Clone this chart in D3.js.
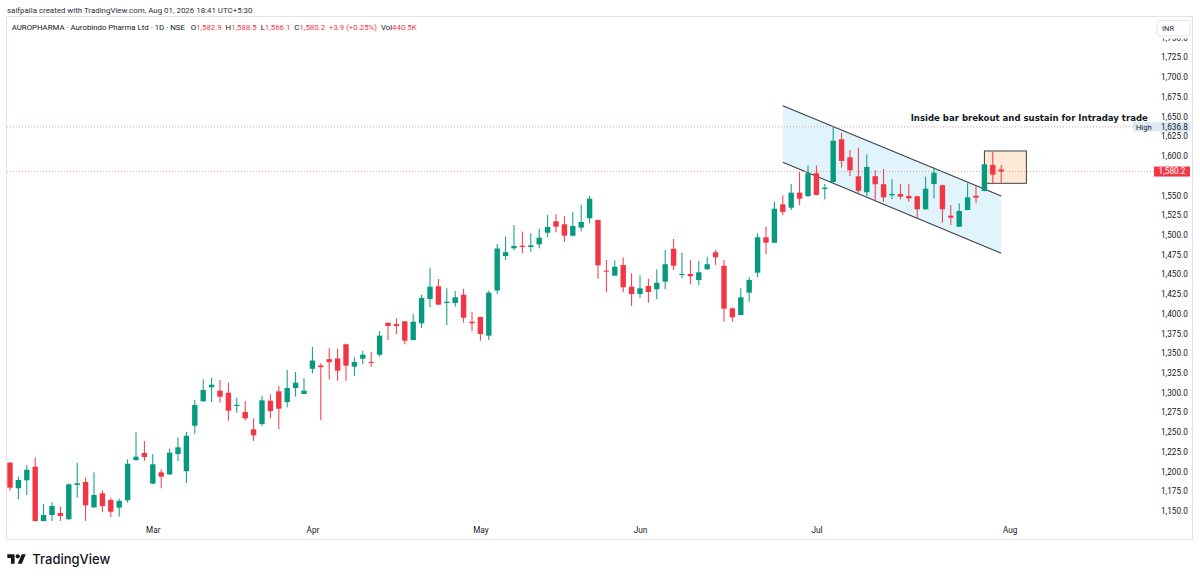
<!DOCTYPE html>
<html>
<head>
<meta charset="utf-8">
<script src="https://cdn.jsdelivr.net/npm/d3@7"></script>
<style>
  body { margin: 0; background: #fff; }
  svg { display: block; font-family: Roboto, "Noto Sans", sans-serif; }
</style>
</head>
<body>
<svg width="1200" height="579"></svg>
<script>
// daily candles, oldest first
var opens = [1211.2, 1178.8, 1188.9, 1206.1, 1137.3, 1144.9, 1147.5, 1139.5, 1183.0, 1186.8,
  1154.7, 1172.4, 1163.9, 1154.2, 1163.6, 1214.6, 1223.5, 1184.6, 1199.0, 1196.3,
  1222.2, 1200.4, 1258.1, 1289.0, 1306.8, 1302.5, 1299.9, 1283.1, 1275.5, 1253.5,
  1260.3, 1289.8, 1301.7, 1288.1, 1305.9, 1298.3, 1330.2, 1334.4, 1342.4, 1343.3,
  1361.3, 1332.9, 1343.0, 1338.8, 1348.1, 1388.6, 1387.0, 1390.4, 1366.7, 1387.9,
  1418.7, 1434.8, 1413.6, 1413.6, 1424.1, 1389.9, 1395.9, 1372.2, 1429.5, 1473.2,
  1482.9, 1486.2, 1484.6, 1488.0, 1502.7, 1517.2, 1513.4, 1498.9, 1509.1, 1521.0,
  1518.8, 1454.6, 1448.2, 1461.8, 1434.3, 1425.0, 1435.2, 1431.0, 1440.6, 1482.4,
  1449.1, 1450.4, 1442.8, 1456.3, 1477.9, 1460.8, 1406.9, 1398.4, 1426.7, 1452.0,
  1496.9, 1490.0, 1538.7, 1534.4, 1553.4, 1549.2, 1578.0, 1558.1, 1567.0, 1621.1,
  1598.3, 1574.2, 1554.0, 1574.3, 1564.1, 1550.1, 1551.8, 1549.2, 1548.9, 1532.4,
  1564.4, 1562.8, 1524.3, 1510.3, 1531.5, 1549.6, 1555.6, 1588.5, 1582.9];
var highs = [1212.5, 1193.5, 1207.9, 1217.6, 1158.9, 1161.4, 1155.4, 1185.1, 1211.2, 1192.2,
  1199.0, 1176.2, 1166.9, 1165.6, 1215.5, 1250.1, 1238.7, 1222.2, 1202.9, 1229.0,
  1243.2, 1250.1, 1290.7, 1316.9, 1318.6, 1316.0, 1312.6, 1293.6, 1289.4, 1267.5,
  1296.1, 1297.9, 1308.4, 1328.7, 1326.2, 1318.6, 1358.2, 1337.2, 1356.2, 1355.6,
  1362.0, 1344.8, 1353.2, 1351.5, 1377.8, 1389.0, 1394.2, 1391.0, 1399.7, 1424.1,
  1458.4, 1444.0, 1432.2, 1428.8, 1431.7, 1402.6, 1396.0, 1429.2, 1488.4, 1497.6,
  1512.5, 1504.0, 1502.0, 1507.8, 1525.2, 1526.4, 1523.9, 1529.0, 1538.2, 1549.2,
  1519.5, 1468.1, 1467.7, 1471.5, 1451.3, 1448.7, 1444.4, 1456.3, 1480.8, 1494.7,
  1477.4, 1468.1, 1466.9, 1472.3, 1480.8, 1468.1, 1408.0, 1432.2, 1446.2, 1502.0,
  1510.3, 1542.0, 1550.1, 1564.4, 1579.6, 1588.1, 1588.1, 1564.4, 1636.8, 1629.5,
  1607.5, 1610.5, 1602.1, 1581.8, 1583.4, 1570.4, 1564.4, 1564.4, 1549.5, 1573.7,
  1585.1, 1563.5, 1537.8, 1540.0, 1565.3, 1561.9, 1590.0, 1605.4, 1588.5];
var lows = [1175.7, 1164.8, 1170.3, 1136.5, 1136.8, 1137.3, 1137.3, 1139.0, 1166.9, 1137.3,
  1154.0, 1148.4, 1142.4, 1142.8, 1160.5, 1213.7, 1213.4, 1184.0, 1178.8, 1196.0,
  1213.4, 1185.5, 1247.6, 1288.5, 1288.1, 1287.3, 1264.4, 1274.6, 1264.4, 1238.7,
  1257.7, 1267.5, 1253.9, 1281.4, 1294.9, 1298.0, 1324.5, 1265.0, 1316.9, 1315.0,
  1315.1, 1321.1, 1335.9, 1332.9, 1345.6, 1366.7, 1374.3, 1361.3, 1366.0, 1381.9,
  1408.2, 1411.0, 1385.7, 1408.9, 1388.6, 1377.8, 1365.8, 1366.7, 1425.0, 1468.1,
  1480.4, 1476.6, 1478.3, 1482.9, 1496.9, 1503.2, 1490.9, 1498.0, 1504.5, 1514.6,
  1444.4, 1427.2, 1448.0, 1427.2, 1409.8, 1420.3, 1414.0, 1418.3, 1431.0, 1455.4,
  1444.9, 1437.3, 1436.4, 1456.0, 1461.8, 1389.9, 1389.9, 1398.0, 1414.9, 1446.2,
  1475.7, 1489.5, 1524.8, 1531.5, 1537.4, 1547.6, 1550.0, 1545.0, 1566.5, 1585.1,
  1574.6, 1553.4, 1549.2, 1543.3, 1542.0, 1545.0, 1545.0, 1542.0, 1521.0, 1532.0,
  1546.3, 1515.4, 1512.5, 1510.0, 1531.0, 1540.0, 1555.0, 1565.0, 1566.1];
var closes = [1179.5, 1189.3, 1202.3, 1137.3, 1144.9, 1156.3, 1143.7, 1183.8, 1185.1, 1157.2,
  1170.3, 1156.3, 1149.1, 1162.7, 1209.9, 1218.8, 1218.4, 1209.2, 1193.5, 1223.9,
  1230.7, 1245.4, 1284.3, 1303.4, 1310.1, 1294.9, 1277.1, 1284.7, 1267.5, 1245.9,
  1290.3, 1276.7, 1279.7, 1305.9, 1312.6, 1302.5, 1340.7, 1332.3, 1338.6, 1327.8,
  1334.2, 1338.8, 1348.1, 1337.9, 1372.2, 1384.5, 1384.5, 1365.8, 1389.9, 1420.0,
  1434.3, 1411.5, 1415.3, 1420.8, 1395.0, 1387.9, 1374.3, 1426.7, 1482.7, 1478.0,
  1485.9, 1484.6, 1486.7, 1496.4, 1509.9, 1510.3, 1498.9, 1511.2, 1516.3, 1545.8,
  1461.4, 1453.3, 1459.6, 1433.5, 1425.0, 1432.2, 1427.6, 1439.3, 1462.7, 1460.9,
  1450.4, 1447.5, 1452.5, 1462.7, 1471.5, 1406.4, 1395.5, 1420.8, 1442.8, 1496.9,
  1490.0, 1533.1, 1529.0, 1553.4, 1545.8, 1578.0, 1550.5, 1559.8, 1619.3, 1593.6,
  1581.8, 1555.9, 1586.0, 1564.1, 1547.6, 1551.8, 1548.3, 1546.3, 1532.4, 1558.5,
  1578.8, 1532.4, 1521.7, 1530.2, 1547.6, 1547.1, 1589.4, 1576.3, 1580.2];

// price axis labels (1,575 is hidden behind the last price tag)
var priceTicks = [1150, 1175, 1200, 1225, 1250, 1275, 1300, 1325, 1350, 1375, 1400, 1425,
  1450, 1475, 1500, 1525, 1550, 1600, 1625, 1650, 1675, 1700, 1725, 1750];
// month labels sit on the first bar of each month
var monthNames = ['Mar', 'Apr', 'May', 'Jun', 'Jul', 'Aug'];
var monthBars = [17, 36, 56, 75, 96, 119];

// drawings: descending channel and the inside bar box
var channelBars = [92, 118];
var channelUpper = [1663.7, 1549.2];
var channelLower = [1591.9, 1476.6];
var boxBars = [116, 121];
var boxPrices = [1606.3, 1565.3];

var lastPrice = 1580.2;
var highPrice = 1636.8;

var UP = '#089981', DOWN = '#f23645', TEXT = '#131722';

var svg = d3.select('svg');
svg.append('rect').attr('width', 1200).attr('height', 579).attr('fill', '#fff');

var x = d3.scaleLinear().domain([0, 118]).range([10, 1001.2]);
var y = d3.scaleLinear().domain([1150, 1725]).range([511, 57.3]);
var bodyW = 5.4;

// squeeze/stretch a text node to a measured width
function fitWidth(sel, w) {
    var len = sel.node().getComputedTextLength();
    var fs = parseFloat(sel.attr('font-size'));
    sel.attr('font-size', fs * w / len);
}

// header above the chart
var head = svg.append('text')
    .attr('x', 7).attr('y', 12.5)
    .attr('font-size', 10).attr('fill', '#2a2e39')
    .text('saifpalla created with TradingView.com, Aug 01, 2026 18:41 UTC+5:30');
fitWidth(head, 246);

// chart frame
svg.append('rect')
    .attr('x', 6.5).attr('y', 16.5).attr('width', 1186).attr('height', 523)
    .attr('fill', '#fff').attr('stroke', '#e0e3eb');

// legend line
var legend = svg.append('text').attr('x', 11.7).attr('y', 29.5)
    .attr('font-size', 9).attr('fill', TEXT)
    .attr('xml:space', 'preserve');
legend.append('tspan').text('AUROPHARMA · Aurobindo Pharma Ltd · 1D · NSE ');
[['O', '1,582.9'], ['H', '1,588.5'], ['L', '1,566.1'], ['C', '1,580.2']].forEach(function(p) {
    legend.append('tspan').text('  ' + p[0]);
    legend.append('tspan').attr('fill', DOWN).text(p[1]);
});
legend.append('tspan').attr('fill', DOWN).text('  +3.9 (+0.25%)');
legend.append('tspan').text('  Vol');
legend.append('tspan').attr('fill', DOWN).text('440.5K');
fitWidth(legend, 406);

var chartG = svg.append('g');

// channel fill and its two rails
var chPoly = [
    [x(channelBars[0]), y(channelUpper[0])],
    [x(channelBars[1]), y(channelUpper[1])],
    [x(channelBars[1]), y(channelLower[1])],
    [x(channelBars[0]), y(channelLower[0])]
];
chartG.append('path')
    .attr('d', 'M' + chPoly.join('L') + 'Z')
    .attr('fill', '#e1f4fb');
[channelUpper, channelLower].forEach(function(rail) {
    chartG.append('line')
        .attr('x1', x(channelBars[0])).attr('y1', y(rail[0]))
        .attr('x2', x(channelBars[1])).attr('y2', y(rail[1]))
        .attr('stroke', '#3b3f49').attr('stroke-width', 1.1);
});

// inside bar box
chartG.append('rect')
    .attr('x', x(boxBars[0])).attr('y', y(boxPrices[0]))
    .attr('width', x(boxBars[1]) - x(boxBars[0]))
    .attr('height', y(boxPrices[1]) - y(boxPrices[0]))
    .attr('fill', '#fde9d5').attr('stroke', '#3b3f49').attr('stroke-width', 1);

// high and last price dotted lines
chartG.append('line')
    .attr('x1', 7).attr('x2', 1133)
    .attr('y1', y(highPrice)).attr('y2', y(highPrice))
    .attr('stroke', '#d9a3aa').attr('stroke-dasharray', '1,2');
chartG.append('line')
    .attr('x1', 7).attr('x2', 1154)
    .attr('y1', y(lastPrice)).attr('y2', y(lastPrice))
    .attr('stroke', '#f0959e').attr('stroke-dasharray', '1,2');

// candles
var bars = d3.range(opens.length).map(function(i) {
    return {i: i, o: opens[i], h: highs[i], l: lows[i], c: closes[i]};
});
var candle = chartG.selectAll('.candle').data(bars).enter()
    .append('g').attr('class', 'candle');
candle.append('line')
    .attr('x1', d => x(d.i)).attr('x2', d => x(d.i))
    .attr('y1', d => y(d.h)).attr('y2', d => y(d.l))
    .attr('stroke', d => d.c >= d.o ? UP : DOWN).attr('stroke-width', 1);
candle.append('rect')
    .attr('x', d => x(d.i) - bodyW / 2)
    .attr('y', d => y(Math.max(d.o, d.c)))
    .attr('width', bodyW)
    .attr('height', d => Math.max(1, Math.abs(y(d.o) - y(d.c))))
    .attr('fill', d => d.c >= d.o ? UP : DOWN);

// annotation
var note = svg.append('text')
    .attr('x', 910.7).attr('y', 120.7)
    .attr('font-family', '"DejaVu Sans", sans-serif')
    .attr('font-weight', 'bold').attr('font-size', 9.5).attr('fill', TEXT)
    .text('Inside bar brekout and sustain for Intraday trade');
fitWidth(note, 237.6);

// right price scale, top label half hidden under the INR badge
svg.append('clipPath').attr('id', 'axisClip')
    .append('rect').attr('x', 1150).attr('y', 38.2).attr('width', 50).attr('height', 500);
var yAxis = d3.axisRight(y).tickValues(priceTicks).tickSize(0).tickPadding(0)
    .tickFormat(d3.format(',.1f'));
var yAxisG = svg.append('g')
    .attr('clip-path', 'url(#axisClip)')
    .append('g')
    .attr('transform', 'translate(1161,0)')
    .call(yAxis);
yAxisG.select('.domain').remove();
yAxisG.selectAll('text')
    .attr('font-size', 8.2).attr('fill', TEXT)
    .attr('font-family', 'Roboto, sans-serif');

// time scale
var xAxis = d3.axisBottom(x).tickValues(monthBars).tickSize(0).tickPadding(0)
    .tickFormat(function(d, i) { return monthNames[i]; });
var xAxisG = svg.append('g')
    .attr('transform', 'translate(0,527)')
    .call(xAxis);
xAxisG.select('.domain').remove();
xAxisG.selectAll('text')
    .attr('font-size', 8.2).attr('fill', TEXT)
    .attr('font-family', 'Roboto, sans-serif');

// INR badge
svg.append('rect')
    .attr('x', 1157).attr('y', 20.5).attr('width', 33).attr('height', 15.5).attr('rx', 2)
    .attr('fill', '#fff').attr('stroke', '#e0e3eb');
svg.append('text')
    .attr('x', 1162).attr('y', 31)
    .attr('font-size', 7.5).attr('fill', '#2a2e39')
    .text('INR');

// high label
svg.append('rect')
    .attr('x', 1133).attr('y', y(highPrice) - 4.7).attr('width', 58).attr('height', 9.4)
    .attr('fill', '#dde9f6');
svg.append('text')
    .attr('x', 1136).attr('y', y(highPrice)).attr('dy', '0.35em')
    .attr('font-size', 7.5).attr('fill', TEXT).text('High');
svg.append('text')
    .attr('x', 1161).attr('y', y(highPrice)).attr('dy', '0.35em')
    .attr('font-size', 8.2).attr('fill', TEXT).text(d3.format(',.1f')(highPrice));

// last price tag
svg.append('rect')
    .attr('x', 1154).attr('y', y(lastPrice) - 5).attr('width', 36).attr('height', 10)
    .attr('fill', DOWN);
svg.append('text')
    .attr('x', 1172).attr('y', y(lastPrice)).attr('dy', '0.35em')
    .attr('text-anchor', 'middle')
    .attr('font-size', 8.2).attr('fill', '#fff').text(d3.format(',.1f')(lastPrice));

// TradingView watermark
svg.append('path')
    .attr('d', 'M14 22H7V11H0V4h14v18zM28 22h-8l7.5-18h8L28 22z')
    .attr('transform', 'translate(7.3,552.2) scale(0.52)')
    .attr('fill', TEXT);
svg.append('circle')
    .attr('cx', 7.3 + 20 * 0.52).attr('cy', 552.2 + 8 * 0.52).attr('r', 4 * 0.52)
    .attr('fill', TEXT);
var brand = svg.append('text')
    .attr('x', 32.3).attr('y', 564.3)
    .attr('font-size', 13).attr('font-weight', 500).attr('fill', TEXT)
    .attr('font-family', 'Inter, Roboto, sans-serif')
    .text('TradingView');
fitWidth(brand, 78);
</script>
</body>
</html>
